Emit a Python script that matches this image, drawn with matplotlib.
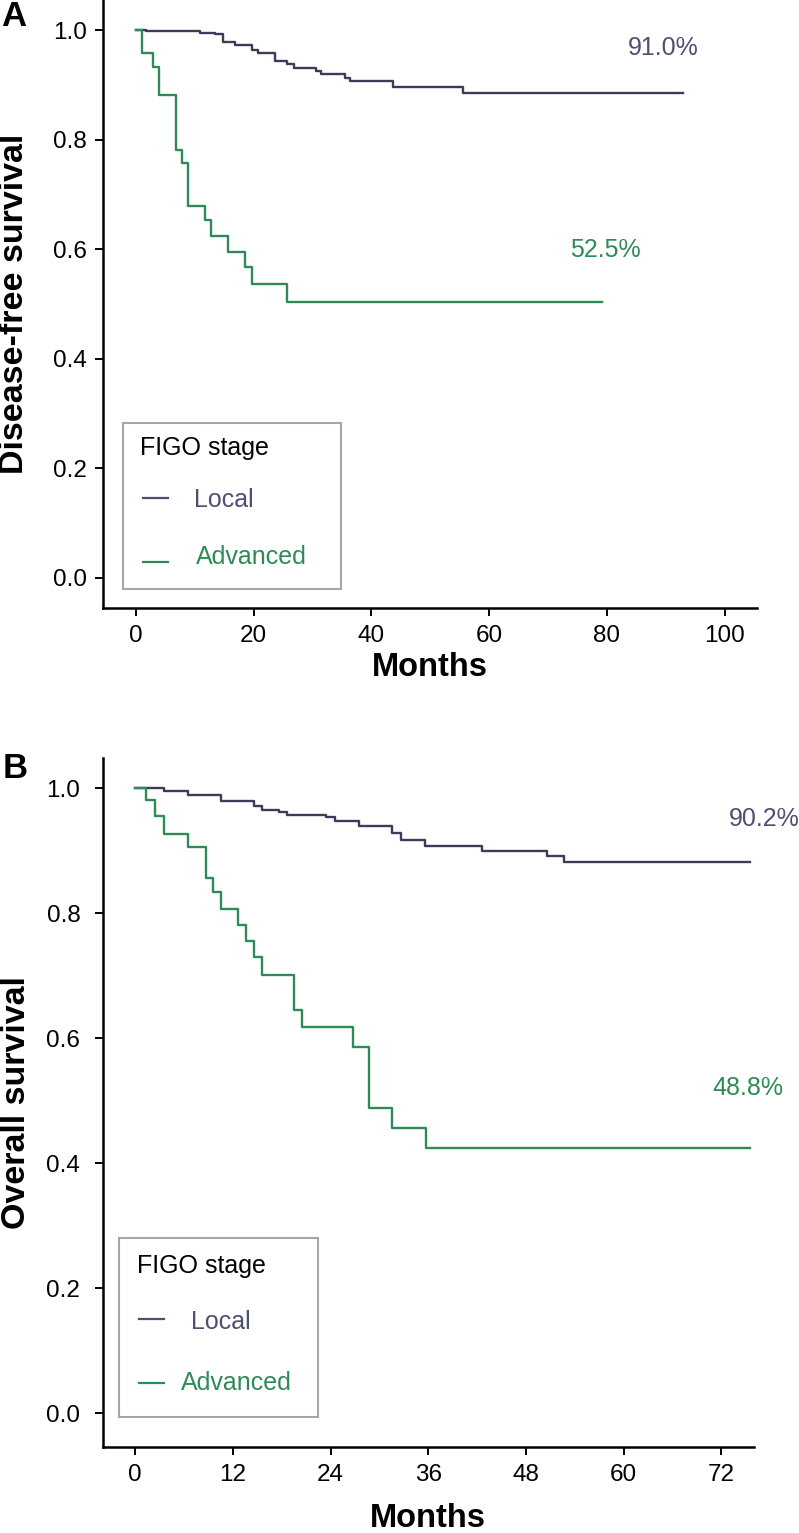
import matplotlib
matplotlib.use("Agg")
import matplotlib.pyplot as plt
from matplotlib.patches import Rectangle
from matplotlib.lines import Line2D

plt.rcParams['font.family'] = ['Liberation Sans', 'DejaVu Sans']

# --- Datos (Kaplan-Meier, FIGO stage) ---
# Panel A: supervivencia libre de enfermedad
dfs_local_t = [0, 1.8, 10.9, 13.4, 14.8, 16.8, 19.8, 20.8, 23.7, 25.6, 26.8,
               30.6, 31.4, 35.5, 36.4, 43.6, 55.6, 92.9]
dfs_local_s = [1.0, 0.998, 0.995, 0.993, 0.979, 0.973, 0.964, 0.959, 0.943,
               0.939, 0.931, 0.926, 0.920, 0.912, 0.907, 0.897, 0.886, 0.886]
dfs_adv_t = [0, 0.96, 2.9, 3.9, 6.9, 7.8, 8.9, 11.7, 12.7, 15.7, 18.6, 19.8,
             25.6, 79.2]
dfs_adv_s = [1.0, 0.959, 0.933, 0.881, 0.781, 0.758, 0.679, 0.653, 0.625,
             0.595, 0.567, 0.536, 0.503, 0.503]

# Panel B: supervivencia global
os_local_t = [0, 3.5, 6.5, 10.6, 14.6, 15.6, 17.7, 18.6, 23.5, 24.6, 27.5,
              31.6, 32.6, 35.6, 42.6, 50.6, 52.7, 75.5]
os_local_s = [1.0, 0.995, 0.989, 0.980, 0.971, 0.965, 0.961, 0.957, 0.953,
              0.947, 0.939, 0.928, 0.917, 0.908, 0.900, 0.891, 0.881, 0.881]
os_adv_t = [0, 1.4, 2.5, 3.6, 6.5, 8.7, 9.6, 10.6, 12.6, 13.6, 14.6, 15.6,
            19.5, 20.5, 26.7, 28.7, 31.6, 35.7, 75.5]
os_adv_s = [1.0, 0.981, 0.955, 0.927, 0.906, 0.856, 0.833, 0.807, 0.781,
            0.756, 0.729, 0.701, 0.645, 0.618, 0.586, 0.488, 0.456, 0.424,
            0.424]

labels = ['Local', 'Advanced']
dfs_pct = ['91.0%', '52.5%']
os_pct = ['90.2%', '48.8%']

dfs_xticks = [0, 20, 40, 60, 80, 100]
os_xticks = [0, 12, 24, 36, 48, 60, 72]
yticks = [0.0, 0.2, 0.4, 0.6, 0.8, 1.0]

c_local = '#3a3c5a'
c_local_txt = '#4d5070'
c_adv = '#2e8b57'


def leyenda(ax, box, title_xy, handles):
    # Leyenda dibujada a mano (coordenadas de ejes)
    x0, y0, x1, y1 = box
    ax.add_patch(Rectangle((x0, y0), x1 - x0, y1 - y0, transform=ax.transAxes,
                           facecolor='white', edgecolor='#a6a6a6', lw=1.5,
                           zorder=6, clip_on=False))
    ax.text(title_xy[0], title_xy[1], 'FIGO stage', transform=ax.transAxes,
            fontsize=18, va='center', ha='left', color='black', zorder=7)
    for (hx0, hx1, hy, tx, ty, lab, col) in handles:
        ax.add_line(Line2D([hx0, hx1], [hy, hy], transform=ax.transAxes,
                           color=col, lw=1.6, zorder=7))
        ax.text(tx, ty, lab, transform=ax.transAxes, fontsize=18,
                va='center', ha='left', color=col, zorder=7)


def estilo(ax, xticks, xlim, ylim, ypad):
    ax.spines['top'].set_visible(False)
    ax.spines['right'].set_visible(False)
    ax.spines['left'].set_linewidth(1.8)
    ax.spines['bottom'].set_linewidth(1.8)
    ax.set_xticks(xticks)
    ax.set_yticks(yticks)
    ax.set_yticklabels([f'{v:.1f}' for v in yticks])
    ax.set_xlim(*xlim)
    ax.set_ylim(*ylim)
    ax.tick_params(axis='both', labelsize=17.5, width=1.4, length=6)
    ax.tick_params(axis='x', pad=6)
    ax.tick_params(axis='y', pad=ypad)


fig = plt.figure(figsize=(7.99, 15.33), dpi=100)

# ---------------- Panel A ----------------
axA = fig.add_axes([0.1295, 0.6034, 0.8179, 0.3966])
axA.step(dfs_local_t, dfs_local_s, where='post', color=c_local, lw=1.7)
axA.step(dfs_adv_t, dfs_adv_s, where='post', color=c_adv, lw=1.7)
axA.text(89.5, 0.967, dfs_pct[0], fontsize=18, color=c_local_txt,
         ha='center', va='center')
axA.text(79.8, 0.598, dfs_pct[1], fontsize=18, color=c_adv,
         ha='center', va='center')
estilo(axA, dfs_xticks, (-5.5, 105.5), (-0.055, 1.055), 6)
axA.text(0.5, -0.0987, 'Months', transform=axA.transAxes, fontsize=23.5,
         fontweight='bold', ha='center', va='center')
axA.text(-0.1354, 0.5, 'Disease-free survival', transform=axA.transAxes,
         fontsize=24.5, fontweight='bold', rotation=90, ha='center',
         va='center')
leyenda(axA, (0.0306, 0.0308, 0.364, 0.305), (0.056, 0.263),
        [(0.0604, 0.0995, 0.181, 0.1385, 0.178, labels[0], c_local_txt),
         (0.0604, 0.0995, 0.0757, 0.142, 0.0839, labels[1], c_adv)])

# ---------------- Panel B ----------------
axB = fig.add_axes([0.1283, 0.0561, 0.8154, 0.4494])
axB.step(os_local_t, os_local_s, where='post', color=c_local, lw=1.7)
axB.step(os_adv_t, os_adv_s, where='post', color=c_adv, lw=1.7)
axB.text(77.2, 0.950, os_pct[0], fontsize=18, color=c_local_txt,
         ha='center', va='center', clip_on=False)
axB.text(75.3, 0.521, os_pct[1], fontsize=18, color=c_adv,
         ha='center', va='center', clip_on=False)
estilo(axB, os_xticks, (-4.0, 76.0), (-0.054, 1.048), 10)
axB.text(0.5, -0.1045, 'Months', transform=axB.transAxes, fontsize=23.5,
         fontweight='bold', ha='center', va='center')
axB.text(-0.132, 0.5, 'Overall survival', transform=axB.transAxes,
         fontsize=24.5, fontweight='bold', rotation=90, ha='center',
         va='center')
leyenda(axB, (0.0253, 0.0435, 0.331, 0.3038), (0.0522, 0.2627),
        [(0.056, 0.0944, 0.1858, 0.1358, 0.1814, labels[0], c_local_txt),
         (0.056, 0.0944, 0.0929, 0.1205, 0.0929, labels[1], c_adv)])

# Letras de panel
fig.text(0.001, 1.0, 'A', fontsize=25, fontweight='bold', ha='left', va='top')
fig.text(0.003, 1 - 752 / 1533, 'B', fontsize=25, fontweight='bold',
         ha='left', va='top')

fig.savefig('out.png', dpi=100)
